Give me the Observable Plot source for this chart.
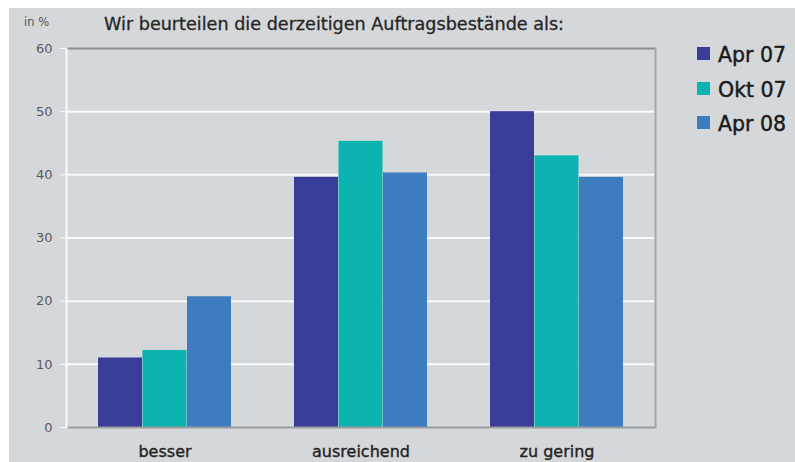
<!DOCTYPE html>
<html><head><meta charset="utf-8">
<script src="https://cdn.jsdelivr.net/npm/d3@7"></script>
<script src="https://cdn.jsdelivr.net/npm/@observablehq/plot@0.6"></script>
<style>
html,body{margin:0;padding:0;background:#fff;}
#wrap{position:relative;width:795px;height:462px;overflow:hidden;font-family:"DejaVu Sans",sans-serif;}
#bg{position:absolute;left:9px;top:8px;right:0;bottom:0;background:#d5d8da;}
#chart{position:absolute;left:0;top:0;}
.t{position:absolute;white-space:nowrap;line-height:1;}
#title{left:104px;top:16px;font-size:17.6px;color:#262626;-webkit-text-stroke:0.3px #262626;}
#unit{left:24px;top:17px;font-size:11.5px;color:#555;}
#legend{position:absolute;left:697px;top:38px;}
.row{display:flex;align-items:center;height:34.5px;font-size:20.5px;color:#1a1a1a;line-height:1;-webkit-text-stroke:0.45px #1a1a1a;}
.sw{width:13px;height:13px;margin-right:8px;margin-top:-3px;-webkit-text-stroke:0;}
#chart svg g[aria-label="x-axis tick label"] text{stroke:#222;stroke-width:0.35px;}
</style></head>
<body>
<div id="wrap">
  <div id="bg"></div>
  <div id="chart"></div>
  <div class="t" id="unit">in %</div>
  <div class="t" id="title">Wir beurteilen die derzeitigen Auftragsbestände als:</div>
  <div id="legend"></div>
</div>
<script>
const categories = ["besser", "ausreichend", "zu gering"];
const series = ["Apr 07", "Okt 07", "Apr 08"];
const apr07 = [11.0, 39.6, 50.0];
const okt07 = [12.2, 45.3, 43.0];
const apr08 = [20.7, 40.3, 39.6];
const yTicks = [0, 10, 20, 30, 40, 50, 60];
const colors = ["#3a3c99", "#0db3b1", "#3e7cc0"];

const values = [apr07, okt07, apr08];
const table = [];
series.forEach((s, i) => categories.forEach((c, j) => table.push({series: s, category: c, value: values[i][j]})));

const W = 795, H = 462, mL = 66, mR = 140, mT = 48, mB = 35;
const padIn = 0.32, padOut = 0.16;
const step = (W - mL - mR) / (categories.length - padIn + 2 * padOut);
const barW = step * (1 - padIn) / series.length;

const bars = series.map((s, i) => Plot.barY(table.filter(d => d.series === s), {
  x: "category", y: "value", fill: "series",
  insetLeft: i * barW, insetRight: (series.length - 1 - i) * barW
}));

const chart = Plot.plot({
  width: W, height: H,
  marginLeft: mL, marginRight: mR, marginTop: mT, marginBottom: mB,
  style: {background: "transparent", fontFamily: "DejaVu Sans, sans-serif"},
  x: {type: "band", domain: categories, paddingInner: padIn, paddingOuter: padOut, label: null},
  y: {domain: [0, 60], label: null},
  color: {domain: series, range: colors},
  marks: [
    Plot.gridY(yTicks.filter(v => v > 0 && v < 60), {stroke: "#fafafa", strokeOpacity: 1, strokeWidth: 2}),
    ...bars,
    Plot.ruleY([0], {stroke: "#999b9c", strokeWidth: 2}),
    Plot.ruleY([60], {stroke: "#8a8c8d", strokeWidth: 2}),
    Plot.frame({anchor: "right", stroke: "#a6a8a9", strokeWidth: 2}),
    Plot.frame({anchor: "left", stroke: "#fafafa", strokeWidth: 2}),
    Plot.axisY({ticks: yTicks, tickSize: 6, tickPadding: 8, stroke: "#fafafa", fill: "#5a5a5a", fontSize: 13, label: null}),
    Plot.axisX({tickSize: 0, tickPadding: 18, fill: "#222", fontSize: 16, label: null})
  ]
});
document.getElementById("chart").appendChild(chart);

const lg = document.getElementById("legend");
series.forEach((s, i) => {
  const r = document.createElement("div");
  r.className = "row";
  r.innerHTML = `<span class="sw" style="background:${colors[i]}"></span><span>${s}</span>`;
  lg.appendChild(r);
});
</script>
</body></html>
